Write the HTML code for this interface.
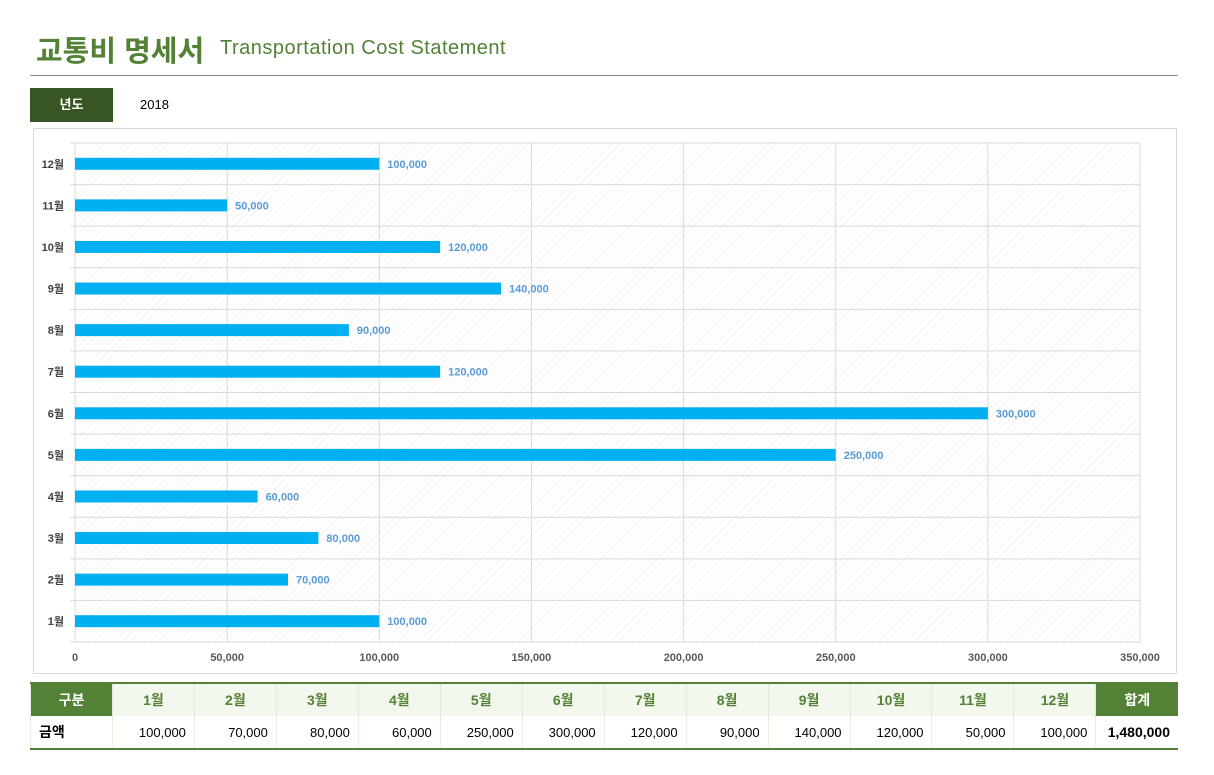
<!DOCTYPE html>
<html><head><meta charset="utf-8"><style>
body{margin:0;width:1214px;height:775px;background:#fff;font-family:"Liberation Sans","Noto Sans CJK KR",sans-serif;position:relative;overflow:hidden}
.abs{position:absolute}
table{border-collapse:collapse;position:absolute;left:30px;top:682px;width:1148px;table-layout:fixed;font-size:13px}
td{height:32px;padding:0 8px;border-left:1px dotted #d6dfc8;text-align:right}
tr.h td{background:#f3f8ee;color:#538135;font-weight:bold;text-align:center;font-size:14px}
tr.h td.g{background:#538135;color:#fff}
#dr td{background:#fff}
table{border-top:2px solid #538135;border-bottom:2px solid #538135}
</style></head><body>
<div class="abs" style="left:36px;top:28px;font-size:29px;font-weight:bold;color:#538135">교통비 명세서</div>
<div class="abs" style="left:220px;top:37px;font-size:20px;letter-spacing:0.5px;color:#538135">Transportation Cost Statement</div>
<div class="abs" style="left:30px;top:75px;width:1148px;height:1px;background:#8a8a8a"></div>
<div class="abs" style="left:30px;top:88px;width:83px;height:34px;background:#375623;color:#fff;font-weight:bold;font-size:13px;line-height:34px;text-align:center">년도</div>
<div class="abs" style="left:140px;top:88px;line-height:34px;font-size:13px">2018</div>
<div class="abs" style="left:33px;top:128px;width:1142px;height:544px;border:1px solid #d9d9d9"></div>
<svg class="abs" style="left:0;top:0" width="1214" height="680" id="chart">
<defs><pattern id="hatch" width="5" height="5" patternUnits="userSpaceOnUse" patternTransform="rotate(45)"><line x1="0" y1="0" x2="0" y2="5" stroke="#ececec" stroke-width="1"/></pattern></defs>
</svg>
<table>
<tr class="h" id="hr"><td class="g">구분</td></tr>
<tr id="dr"><td style="text-align:left;font-weight:bold;font-size:14px">금액</td></tr>
</table>
<script>
const months=['1월','2월','3월','4월','5월','6월','7월','8월','9월','10월','11월','12월'];
const values=[100000,70000,80000,60000,250000,300000,120000,90000,140000,120000,50000,100000];
const ticks=[0,50000,100000,150000,200000,250000,300000,350000];
const NS='http://www.w3.org/2000/svg';
const svg=document.getElementById('chart');
const L=75,R=1140,T=143,B=642,MAX=350000;
const x=v=>L+(R-L)*v/MAX;
const band=(B-T)/months.length;
const y=i=>B-band*(i+0.5);
const fmt=v=>v.toLocaleString('en-US');
function mk(t,a){const e=document.createElementNS(NS,t);for(const k in a)e.setAttribute(k,a[k]);svg.appendChild(e);return e;}
const bg=mk('rect',{x:L,y:T,width:R-L,height:B-T,fill:'url(#hatch)',stroke:'#d9d9d9'});


ticks.forEach(t=>{const g=mk('line',{x1:x(t),x2:x(t),y1:T,y2:B,stroke:'#d9d9d9'});


const tx=mk('text',{x:x(t),y:661,'text-anchor':'middle','font-size':11,'font-weight':'bold',fill:'#595959'});tx.textContent=fmt(t);

});
for(let i=0;i<=months.length;i++){const g=mk('line',{x1:L-5,x2:R,y1:T+band*i,y2:T+band*i,stroke:'#d9d9d9'});

}
months.forEach((m,i)=>{
const lb=mk('text',{x:64,y:y(i)+4,'text-anchor':'end','font-size':11,'font-weight':'bold',fill:'#404040'});lb.textContent=m;


const b=mk('rect',{x:L,y:y(i)-6,width:x(values[i])-L,height:12,fill:'#00b0f0'});


const v=mk('text',{x:x(values[i])+8,y:y(i)+4,'font-size':11,'font-weight':'bold',fill:'#5b9bd5'});v.textContent=fmt(values[i]);


});
const hr=document.getElementById('hr'),dr=document.getElementById('dr');
months.forEach((m,i)=>{const a=document.createElement('td');a.textContent=m;


hr.appendChild(a);
const d=document.createElement('td');d.textContent=fmt(values[i]);


dr.appendChild(d);});
const ht=document.createElement('td');ht.className='g';ht.textContent='합계';


hr.appendChild(ht);
const tt=document.createElement('td');tt.textContent=fmt(values.reduce((a,b)=>a+b,0));tt.style.fontWeight='bold';tt.style.fontSize='14px';


dr.appendChild(tt);
</script>
</body></html>
